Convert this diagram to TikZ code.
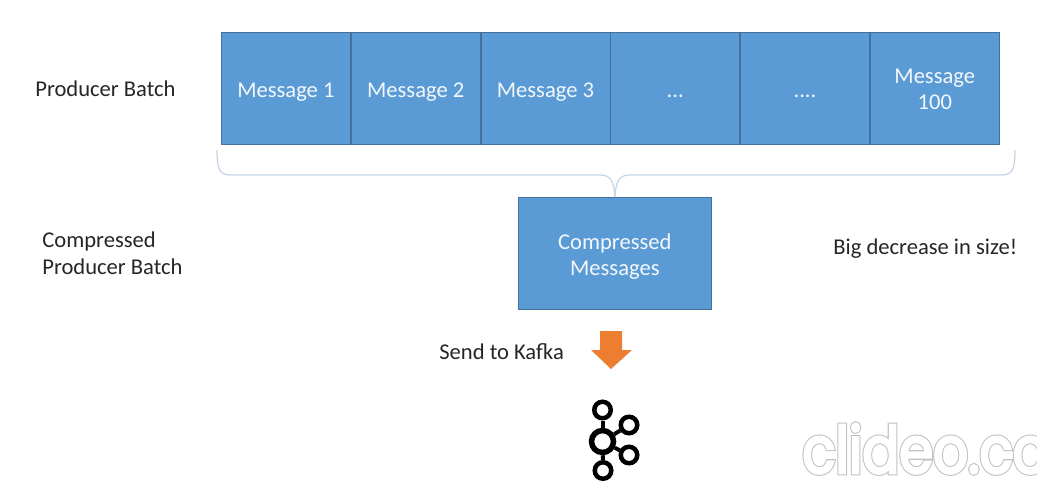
\documentclass[tikz,border=0pt]{standalone}
\usepackage{fontspec}
\setmainfont{Carlito}
\newfontfamily\markfont[FakeBold=7.2,FakeStretch=0.84]{Poppins}
\newfontfamily\markfontw[FakeBold=4,FakeStretch=0.84]{Poppins}
\usetikzlibrary{positioning}
\definecolor{boxblue}{HTML}{5B9BD5}
\definecolor{boxedge}{HTML}{41719C}
\definecolor{bracecol}{HTML}{C4D5E6}
\definecolor{arroworange}{HTML}{ED7D31}
\definecolor{labelcol}{HTML}{262626}
\tikzset{
	msgbox/.style={draw=boxedge,line width=0.4pt,fill=boxblue,text=white!92!boxblue,minimum width=2.582cm,minimum height=2.24cm,inner sep=0pt,align=center,text height=10pt,text depth=0pt,font=\fontsize{12.85}{15.1}\selectfont},
	lbl/.style={text=labelcol,inner sep=0pt,align=left,font=\fontsize{12.85}{15.1}\selectfont},
	kafkaring/.style={draw=black,line width=0.09cm,circle,inner sep=0pt,minimum size=0.33cm,fill=white},
	kafkalink/.style={draw=black,line width=0.08cm}
}
\begin{document}
\begin{tikzpicture}[x=0.02cm,y=-0.02cm]
	\useasboundingbox (0,0) rectangle (1037,493);
	%Batch
	\node[msgbox,anchor=north west] (msg1) at (221,32) {Message 1};
	\node[msgbox,right=0cm of msg1] (msg2) {Message 2};
	\node[msgbox,right=0cm of msg2] (msg3) {Message 3};
	\node[msgbox,right=0cm of msg3] (msg4) {...};
	\node[msgbox,right=0cm of msg4] (msg5) {....};
	\node[msgbox,right=0cm of msg5,text height=24.3pt] (msg6) {Message\\100};
	%Compressed
	\node[msgbox,anchor=north west,minimum width=3.86cm,text height=25.3pt] (comp) at (518,197) {Compressed\\Messages};
	%Brace
	\coordinate (braceL) at (217,150);
	\coordinate (braceR) at (1015,150);
	\draw[bracecol,line width=0.7pt] (braceL) .. controls (217,168) and (219,175) .. (230,175) -- (600,175) .. controls (610,175) and (614,180) .. (comp.north);
	\draw[bracecol,line width=0.7pt] (braceR) .. controls (1015,168) and (1013,175) .. (1002,175) -- (630,175) .. controls (620,175) and (616,180) .. (comp.north);
	%Labels
	\node[lbl,anchor=west] (batchlbl) at (35,89) {Producer Batch};
	\node[lbl,anchor=west] (complbl) at (42,253.5) {Compressed\\Producer Batch};
	\node[lbl,anchor=west] (sizelbl) at (833,248.5) {Big decrease in size!};
	\node[lbl,anchor=west] (sendlbl) at (439,351.5) {Send to Kafka};
	%Arrow
	\fill[arroworange] (600,331) -- (622,331) -- (622,350) -- (632,350) -- (611,369) -- (591,350) -- (600,350) -- cycle;
	%Logo
	\node[kafkaring] (ktop) at (602.5,410) {};
	\node[kafkaring,line width=0.11cm,minimum size=0.44cm] (kmid) at (602.5,441.5) {};
	\node[kafkaring] (kup) at (629,425) {};
	\node[kafkaring] (kdown) at (629,455) {};
	\node[kafkaring] (kbot) at (603,470.5) {};
	\draw[kafkalink] (ktop) -- (kmid);
	\draw[kafkalink] (kmid) -- (kbot);
	\draw[kafkalink] (kmid) -- (kup);
	\draw[kafkalink] (kmid) -- (kdown);
	%Watermark
	\node[anchor=base west,inner sep=0pt,text=black!24,font=\markfont\fontsize{37}{37}\selectfont] (mark) at (802,473) {clideo.co};
	\node[anchor=base west,inner sep=0pt,text=white,font=\markfontw\fontsize{37}{37}\selectfont] (markw) at (802,473) {clideo.co};
\end{tikzpicture}
\end{document}
